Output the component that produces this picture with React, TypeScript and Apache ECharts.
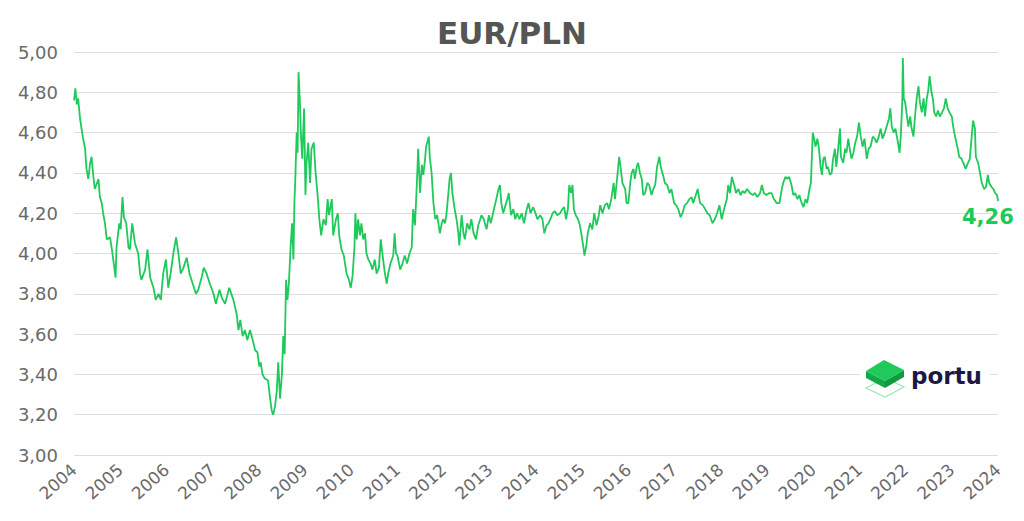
import React, { useEffect, useRef } from "react";
import * as echarts from "echarts";

const title = "EUR/PLN";
const yearTicks = [2004, 2024];
const yRange = [3, 5];

const times = [
  2004.00, 2004.03, 2004.06, 2004.09, 2004.13, 2004.19, 2004.24, 2004.27, 2004.31, 2004.35,
  2004.38, 2004.42, 2004.45, 2004.53, 2004.56, 2004.60, 2004.63, 2004.67, 2004.71, 2004.78,
  2004.82, 2004.85, 2004.90, 2004.92, 2004.98, 2005.01, 2005.05, 2005.08, 2005.13, 2005.18,
  2005.21, 2005.26, 2005.32, 2005.39, 2005.43, 2005.46, 2005.54, 2005.59, 2005.65, 2005.72,
  2005.77, 2005.83, 2005.88, 2005.93, 2005.99, 2006.04, 2006.09, 2006.15, 2006.21, 2006.26,
  2006.31, 2006.37, 2006.44, 2006.50, 2006.57, 2006.64, 2006.69, 2006.76, 2006.81, 2006.87,
  2006.94, 2007.02, 2007.07, 2007.15, 2007.20, 2007.27, 2007.36, 2007.45, 2007.52, 2007.56,
  2007.60, 2007.65, 2007.70, 2007.75, 2007.81, 2007.88, 2007.92, 2007.97, 2008.01, 2008.04,
  2008.08, 2008.13, 2008.20, 2008.24, 2008.28, 2008.31, 2008.35, 2008.39, 2008.42, 2008.46,
  2008.50, 2008.53, 2008.56, 2008.59, 2008.62, 2008.65, 2008.69, 2008.72, 2008.75, 2008.77,
  2008.79, 2008.82, 2008.84, 2008.86, 2008.89, 2008.91, 2008.94, 2008.98, 2009.01, 2009.03,
  2009.07, 2009.11, 2009.14, 2009.19, 2009.23, 2009.28, 2009.31, 2009.35, 2009.40, 2009.45,
  2009.49, 2009.52, 2009.58, 2009.61, 2009.67, 2009.71, 2009.74, 2009.79, 2009.84, 2009.90,
  2009.95, 2009.99, 2010.03, 2010.07, 2010.09, 2010.12, 2010.15, 2010.19, 2010.22, 2010.26,
  2010.30, 2010.33, 2010.37, 2010.42, 2010.46, 2010.51, 2010.55, 2010.60, 2010.64, 2010.68,
  2010.73, 2010.77, 2010.80, 2010.85, 2010.91, 2010.94, 2010.97, 2011.00, 2011.06, 2011.11,
  2011.16, 2011.21, 2011.26, 2011.31, 2011.34, 2011.38, 2011.42, 2011.45, 2011.49, 2011.53,
  2011.56, 2011.60, 2011.62, 2011.68, 2011.70, 2011.74, 2011.78, 2011.82, 2011.86, 2011.92,
  2011.96, 2011.99, 2012.03, 2012.06, 2012.10, 2012.13, 2012.16, 2012.19, 2012.24, 2012.28,
  2012.32, 2012.34, 2012.39, 2012.43, 2012.46, 2012.51, 2012.56, 2012.60, 2012.65, 2012.70,
  2012.75, 2012.82, 2012.87, 2012.93, 2012.98, 2013.02, 2013.07, 2013.14, 2013.19, 2013.22,
  2013.25, 2013.29, 2013.34, 2013.38, 2013.41, 2013.46, 2013.51, 2013.55, 2013.59, 2013.64,
  2013.69, 2013.74, 2013.80, 2013.84, 2013.88, 2013.94, 2013.99, 2014.03, 2014.09, 2014.14,
  2014.18, 2014.23, 2014.27, 2014.31, 2014.36, 2014.41, 2014.46, 2014.52, 2014.57, 2014.61,
  2014.65, 2014.69, 2014.72, 2014.76, 2014.79, 2014.82, 2014.86, 2014.91, 2014.95, 2014.98,
  2015.02, 2015.05, 2015.09, 2015.12, 2015.17, 2015.22, 2015.26, 2015.31, 2015.36, 2015.39,
  2015.44, 2015.49, 2015.54, 2015.58, 2015.63, 2015.68, 2015.71, 2015.75, 2015.80, 2015.83,
  2015.87, 2015.93, 2015.96, 2016.00, 2016.04, 2016.07, 2016.11, 2016.14, 2016.18, 2016.21,
  2016.25, 2016.29, 2016.32, 2016.36, 2016.41, 2016.45, 2016.50, 2016.54, 2016.58, 2016.62,
  2016.67, 2016.70, 2016.76, 2016.79, 2016.84, 2016.89, 2016.93, 2016.99, 2017.03, 2017.08,
  2017.13, 2017.17, 2017.22, 2017.27, 2017.32, 2017.37, 2017.40, 2017.46, 2017.50, 2017.55,
  2017.61, 2017.66, 2017.71, 2017.76, 2017.82, 2017.87, 2017.92, 2017.97, 2018.02, 2018.07,
  2018.13, 2018.16, 2018.20, 2018.24, 2018.29, 2018.33, 2018.38, 2018.43, 2018.47, 2018.52,
  2018.57, 2018.63, 2018.69, 2018.74, 2018.79, 2018.85, 2018.89, 2018.93, 2018.99, 2019.05,
  2019.10, 2019.15, 2019.21, 2019.27, 2019.32, 2019.35, 2019.40, 2019.44, 2019.48, 2019.53,
  2019.57, 2019.61, 2019.66, 2019.70, 2019.75, 2019.79, 2019.83, 2019.87, 2019.92, 2019.95,
  2019.97, 2019.99, 2020.02, 2020.05, 2020.09, 2020.12, 2020.16, 2020.19, 2020.22, 2020.25,
  2020.29, 2020.32, 2020.36, 2020.40, 2020.43, 2020.47, 2020.50, 2020.54, 2020.58, 2020.60,
  2020.65, 2020.69, 2020.72, 2020.76, 2020.79, 2020.83, 2020.87, 2020.91, 2020.95, 2020.99,
  2021.03, 2021.07, 2021.11, 2021.16, 2021.20, 2021.24, 2021.29, 2021.33, 2021.37, 2021.42,
  2021.46, 2021.50, 2021.55, 2021.59, 2021.64, 2021.67, 2021.70, 2021.74, 2021.78, 2021.82,
  2021.87, 2021.90, 2021.93, 2021.94, 2021.96, 2021.99, 2022.03, 2022.06, 2022.10, 2022.13,
  2022.17, 2022.20, 2022.24, 2022.28, 2022.31, 2022.35, 2022.39, 2022.42, 2022.46, 2022.49,
  2022.52, 2022.56, 2022.59, 2022.62, 2022.66, 2022.70, 2022.74, 2022.79, 2022.83, 2022.87,
  2022.91, 2022.95, 2023.00, 2023.03, 2023.07, 2023.12, 2023.16, 2023.21, 2023.25, 2023.30,
  2023.35, 2023.39, 2023.43, 2023.46, 2023.50, 2023.52, 2023.57, 2023.61, 2023.65, 2023.70,
  2023.74, 2023.78, 2023.81, 2023.86, 2023.90, 2023.94, 2023.98, 2024.00,
];

const rates = [
  4.76, 4.82, 4.74, 4.77, 4.67, 4.58, 4.52, 4.42, 4.37, 4.45,
  4.48, 4.38, 4.32, 4.37, 4.28, 4.25, 4.20, 4.15, 4.07, 4.08,
  4.02, 3.97, 3.88, 4.03, 4.15, 4.12, 4.28, 4.18, 4.15, 4.03,
  4.02, 4.15, 4.05, 4.00, 3.90, 3.87, 3.92, 4.02, 3.88, 3.83,
  3.77, 3.80, 3.77, 3.90, 3.97, 3.83, 3.90, 4.00, 4.08, 4.00,
  3.90, 3.93, 3.98, 3.90, 3.85, 3.80, 3.82, 3.88, 3.93, 3.90,
  3.85, 3.80, 3.75, 3.82, 3.78, 3.75, 3.83, 3.77, 3.70, 3.62,
  3.67, 3.59, 3.62, 3.57, 3.62, 3.56, 3.52, 3.51, 3.44, 3.46,
  3.40, 3.38, 3.37, 3.29, 3.22, 3.20, 3.24, 3.32, 3.46, 3.28,
  3.40, 3.59, 3.50, 3.87, 3.77, 3.85, 4.04, 4.15, 3.97, 4.25,
  4.37, 4.60, 4.50, 4.90, 4.75, 4.60, 4.47, 4.72, 4.29, 4.44,
  4.55, 4.35, 4.52, 4.55, 4.40, 4.27, 4.17, 4.09, 4.17, 4.14,
  4.27, 4.19, 4.27, 4.09, 4.17, 4.20, 4.09, 4.02, 3.99, 3.90,
  3.87, 3.83, 3.89, 4.03, 4.20, 4.07, 4.17, 4.09, 4.15, 4.07,
  4.10, 4.00, 3.97, 3.95, 3.92, 3.97, 3.90, 3.93, 4.07, 3.99,
  3.90, 3.85, 3.90, 3.95, 3.99, 4.10, 4.00, 3.99, 3.92, 3.95,
  3.99, 3.95, 4.00, 4.03, 4.22, 4.14, 4.34, 4.52, 4.30, 4.44,
  4.39, 4.47, 4.53, 4.58, 4.48, 4.40, 4.25, 4.17, 4.19, 4.10,
  4.15, 4.17, 4.15, 4.19, 4.29, 4.37, 4.40, 4.30, 4.22, 4.17,
  4.10, 4.04, 4.19, 4.10, 4.07, 4.15, 4.12, 4.17, 4.10, 4.07,
  4.14, 4.19, 4.17, 4.12, 4.19, 4.15, 4.20, 4.27, 4.32, 4.34,
  4.25, 4.20, 4.24, 4.27, 4.30, 4.19, 4.22, 4.17, 4.20, 4.17,
  4.20, 4.15, 4.22, 4.25, 4.20, 4.23, 4.20, 4.17, 4.19, 4.17,
  4.10, 4.14, 4.15, 4.17, 4.20, 4.21, 4.19, 4.20, 4.22, 4.23,
  4.17, 4.22, 4.34, 4.30, 4.34, 4.22, 4.19, 4.17, 4.14, 4.10,
  4.04, 3.99, 4.04, 4.10, 4.15, 4.12, 4.20, 4.14, 4.19, 4.24,
  4.20, 4.24, 4.25, 4.22, 4.27, 4.35, 4.27, 4.36, 4.48, 4.43,
  4.35, 4.32, 4.25, 4.25, 4.35, 4.40, 4.42, 4.37, 4.43, 4.45,
  4.40, 4.37, 4.29, 4.30, 4.35, 4.34, 4.29, 4.32, 4.34, 4.43,
  4.48, 4.43, 4.38, 4.35, 4.34, 4.30, 4.32, 4.25, 4.24, 4.22,
  4.18, 4.20, 4.24, 4.25, 4.27, 4.28, 4.25, 4.29, 4.32, 4.25,
  4.24, 4.22, 4.20, 4.19, 4.15, 4.17, 4.20, 4.24, 4.17, 4.22,
  4.27, 4.34, 4.30, 4.38, 4.34, 4.30, 4.32, 4.29, 4.31, 4.30,
  4.32, 4.30, 4.29, 4.30, 4.28, 4.30, 4.34, 4.30, 4.29, 4.30,
  4.30, 4.27, 4.25, 4.25, 4.32, 4.35, 4.38, 4.37, 4.38, 4.34,
  4.29, 4.30, 4.27, 4.29, 4.25, 4.23, 4.27, 4.25, 4.32, 4.35,
  4.47, 4.60, 4.57, 4.53, 4.57, 4.53, 4.43, 4.39, 4.47, 4.48,
  4.42, 4.43, 4.39, 4.40, 4.47, 4.52, 4.43, 4.52, 4.62, 4.48,
  4.45, 4.52, 4.50, 4.57, 4.52, 4.47, 4.50, 4.55, 4.58, 4.65,
  4.58, 4.53, 4.57, 4.47, 4.52, 4.53, 4.58, 4.57, 4.55, 4.58,
  4.62, 4.57, 4.60, 4.63, 4.67, 4.72, 4.63, 4.60, 4.62, 4.57,
  4.50, 4.60, 4.77, 4.97, 4.77, 4.75, 4.68, 4.63, 4.68, 4.62,
  4.58, 4.67, 4.77, 4.83, 4.75, 4.70, 4.77, 4.68, 4.77, 4.81,
  4.88, 4.80, 4.77, 4.70, 4.68, 4.71, 4.68, 4.70, 4.72, 4.77,
  4.72, 4.70, 4.68, 4.63, 4.58, 4.53, 4.48, 4.47, 4.45, 4.42,
  4.45, 4.47, 4.58, 4.66, 4.62, 4.48, 4.45, 4.40, 4.35, 4.32,
  4.33, 4.39, 4.35, 4.33, 4.32, 4.30, 4.29, 4.26,
];

const GREEN = "#1fc95b";
const FONT = "DejaVu Sans";

export default function App() {
  const ref = useRef<HTMLDivElement>(null);

  useEffect(() => {
    if (!ref.current) return;
    const chart = echarts.init(ref.current, null, { renderer: "svg" });
    const data = times.map((t, i) => [t, rates[i]]);
    chart.setOption({
      animation: false,
      backgroundColor: "#ffffff",
      title: {
        text: title,
        left: "center",
        top: 12,
        textStyle: { fontFamily: FONT, fontSize: 31, fontWeight: "bold", color: "#555555" },
      },
      grid: { left: 74, right: 26, top: 52, bottom: 66, containLabel: false },
      xAxis: {
        type: "value",
        min: yearTicks[0],
        max: yearTicks[1],
        interval: 1,
        axisLine: { show: false },
        axisTick: { show: false },
        splitLine: { show: false },
        axisLabel: {
          rotate: 42,
          margin: 12,
          color: "#6a6a6a",
          fontFamily: FONT,
          fontSize: 17,
          formatter: (v: number) => String(Math.round(v)),
        },
      },
      yAxis: {
        type: "value",
        min: yRange[0],
        max: yRange[1],
        interval: 0.2,
        axisLine: { show: false },
        axisTick: { show: false },
        splitLine: { lineStyle: { color: "#dddddd", width: 1 } },
        axisLabel: {
          margin: 16,
          color: "#6a6a6a",
          fontFamily: FONT,
          fontSize: 18,
          formatter: (v: number) => v.toFixed(2).replace(".", ","),
        },
      },
      series: [
        {
          type: "line",
          data,
          showSymbol: false,
          symbol: "none",
          lineStyle: { color: GREEN, width: 1.8 },
          itemStyle: { color: GREEN },
          clip: false,
          endLabel: {
            show: true,
            color: GREEN,
            fontFamily: FONT,
            fontSize: 21,
            fontWeight: "bold",
            offset: [-44, 16],
            formatter: (p: any) => Number(p.value[1]).toFixed(2).replace(".", ","),
          },
        },
      ],
      graphic: [
        { type: "rect", shape: { x: 860, y: 354, width: 130, height: 46 }, style: { fill: "#ffffff" }, z: 10 },
        {
          type: "polygon",
          shape: { points: [[866, 388], [885, 378], [904, 387], [885, 397]] },
          style: { fill: "none", stroke: "#9ee6b6", lineWidth: 1.2 },
          z: 11,
        },
        {
          type: "polygon",
          shape: { points: [[866, 371], [885, 381], [885, 388], [866, 378]] },
          style: { fill: "#12a845" },
          z: 12,
        },
        {
          type: "polygon",
          shape: { points: [[885, 381], [904, 370], [904, 377], [885, 388]] },
          style: { fill: "#0f9a3e" },
          z: 12,
        },
        {
          type: "polygon",
          shape: { points: [[866, 371], [884, 360], [904, 370], [885, 381]] },
          style: { fill: "#1fc95b" },
          z: 13,
        },
        {
          type: "text",
          x: 911,
          y: 376,
          style: {
            text: "portu",
            fontFamily: FONT,
            fontSize: 23,
            fontWeight: "bold",
            fill: "#1d1746",
            verticalAlign: "middle",
            align: "left",
          },
          z: 13,
        },
      ],
    });
    return () => chart.dispose();
  }, []);

  return (
    <div
      ref={ref}
      style={{ position: "fixed", left: 0, top: 0, width: 1024, height: 521, background: "#fff" }}
    />
  );
}
